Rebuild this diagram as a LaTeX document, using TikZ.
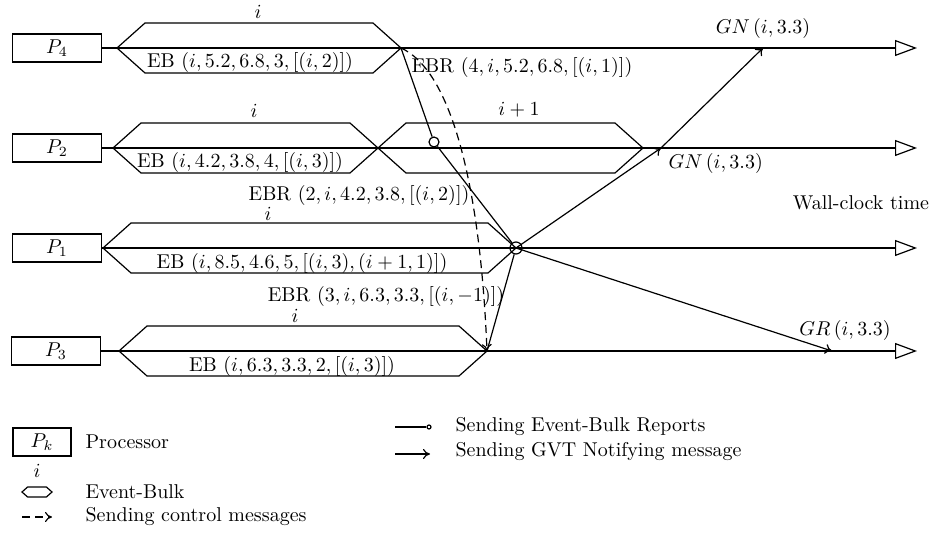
\documentclass[tikz,border=0pt]{standalone}
\usepackage{amsmath}
\usepackage{tikz}
\usetikzlibrary{arrows.meta}

\tikzset{
  proc/.style={draw, minimum width=44.5pt, minimum height=14pt, inner sep=0pt},
  lbl/.style={inner sep=1pt},
  axis/.style={-{Triangle[open,length=11pt,width=8pt]}},
  notify/.style={-{To[length=3.5pt,width=5pt]}},
  control/.style={dash pattern=on 4pt off 2.5pt, -{To[length=3.5pt,width=5pt]}},
  rcv/.style={draw, circle, inner sep=0pt, minimum size=5pt},
}

% event-bulk hexagon: left tip, right tip, y, half height, name of right tip
\newcommand{\bulk}[5]{%
  \draw (#1,#3) -- (#1+1.12*#4,#3-#4) -- (#2-1.12*#4,#3-#4) -- (#2,#3)
        -- (#2-1.12*#4,#3+#4) -- (#1+1.12*#4,#3+#4) -- cycle;
  \coordinate (#5) at (#2,#3);}

\begin{document}
\begin{tikzpicture}[x=0.5pt, y=-0.5pt, line width=0.6pt, font=\normalsize]
    \useasboundingbox (0,0) rectangle (934,546);

    % 处理器
    \node[proc] (P4) at (57,48)  {$P_4$};
    \node[proc] (P2) at (57,148) {$P_2$};
    \node[proc] (P1) at (57,248) {$P_1$};
    \node[proc] (P3) at (56,351) {$P_3$};

    % 时间轴
    \coordinate (tend) at (917,0);
    \foreach \p in {P4,P2,P1,P3}
        \draw[axis] (\p.east) -- (\p.east -| tend);

    % Event-Bulk
    \bulk{117}{401}{48}{25}{eb4}
    \bulk{113}{378}{148}{25}{eb2}
    \bulk{378}{643}{148}{25}{eb2n}
    \bulk{103}{516}{248}{25}{eb1}
    \bulk{119}{487}{351}{25}{eb3}

    \node[lbl] (i4)  at (258,12)  {$i$};
    \node[lbl] (i2)  at (254,111) {$i$};
    \node[lbl] (i2n) at (519,110) {$i + 1$};
    \node[lbl] (i1)  at (268,214) {$i$};
    \node[lbl] (i3)  at (295,316) {$i$};

    \node[lbl] (eb4l) at (250,63)  {EB $(i, 5.2, 6.8, 3, [(i, 2)])$};
    \node[lbl] (eb2l) at (240,162) {EB $(i, 4.2, 3.8, 4, [(i, 3)])$};
    \node[lbl] (eb1l) at (302,263) {EB $(i, 8.5, 4.6, 5, [(i, 3), (i + 1, 1)])$};
    \node[lbl] (eb3l) at (292,366) {EB $(i, 6.3, 3.3, 2, [(i, 3)])$};

    % 报告
    \node[rcv] (r2) at (434,142) {};
    \node[rcv, minimum size=6pt] (r1) at (eb1) {};
    \draw (eb4) -- (r2);
    \draw (r2) -- (r1);
    \draw (eb3) -- (r1);
    \draw[control] (eb4) .. controls (450,70) and (480,180) .. (eb3);

    \node[lbl, anchor=west] (ebr4) at (409,68)  {EBR $(4, i, 5.2, 6.8, [(i, 1)])$};
    \node[lbl] (ebr2) at (359,195) {EBR $(2, i, 4.2, 3.8, [(i, 2)])$};
    \node[lbl] (ebr3) at (386,296) {EBR $(3, i, 6.3, 3.3, [(i, -1)])$};

    % GVT 通知
    \coordinate (g2) at (661,148);
    \coordinate (g4) at (763,48);
    \coordinate (g3) at (832,351);
    \draw[notify] (r1.center) -- (g2);
    \draw[notify] (g2) -- (g4);
    \draw[notify] (r1.center) -- (g3);

    \node[lbl, anchor=west] (gn2) at (666,164) {$GN\,(i, 3.3)$};
    \node[lbl] (gn4) at (763,28)  {$GN\,(i, 3.3)$};
    \node[lbl] (gr3) at (845,330) {$GR\,(i, 3.3)$};
    \node[lbl] (wct) at (861,203) {Wall-clock time};

    % 图例
    \node[proc, minimum width=29pt] (Pk) at (42,442) {$P_k$};
    \node[lbl, anchor=west] (lp) at (83,442) {Processor};
    \node[lbl] (li) at (37,471) {$i$};
    \bulk{22}{52}{492}{5}{lhex}
    \node[lbl, anchor=west] (lb) at (83,492) {Event-Bulk};
    \coordinate (lc0) at (22,517);
    \coordinate (lc1) at (52,517);
    \draw[control] (lc0) -- (lc1);
    \node[lbl, anchor=west] (lc) at (83,517) {Sending control messages};

    \coordinate (lr0) at (395,427);
    \node[rcv, minimum size=2pt] (lr1) at (429,427) {};
    \draw (lr0) -- (lr1);
    \node[lbl, anchor=west] (lr) at (453,427) {Sending Event-Bulk Reports};
    \coordinate (ln0) at (395,454);
    \coordinate (ln1) at (430,454);
    \draw[notify] (ln0) -- (ln1);
    \node[lbl, anchor=west] (ln) at (453,452) {Sending GVT Notifying message};
\end{tikzpicture}
\end{document}
